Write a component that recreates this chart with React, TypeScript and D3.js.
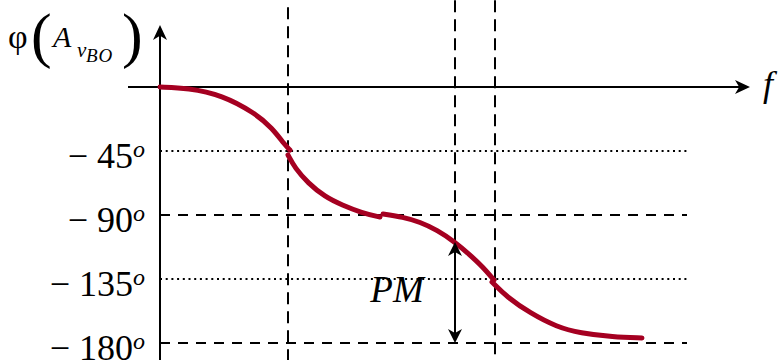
import { useEffect, useRef } from 'react';
import * as d3 from 'd3';

// phase readings, [f (arbitrary units), phase in degrees]
const segA: [number, number][] = [
  [0, 0], [2.8, -0.6], [6.2, -5.6], [9.5, -18.3], [11.2, -28.8], [12.5, -40.8], [13, -44.3],
];
const segB: [number, number][] = [
  [12.8, -47.8], [13.5, -57.0], [14.8, -67.5], [16.5, -77.3], [18.2, -83.0], [20.2, -88.6], [22.0, -91.4],
];
const segC: [number, number][] = [
  [22.3, -89.3], [24.3, -91.4], [26.0, -94.9], [27.7, -100.5], [29.5, -109.0], [31.0, -118.1], [32.3, -126.6], [33.4, -135.7],
];
const segD: [number, number][] = [
  [33.2, -137.1], [34.7, -147.7], [37.0, -158.9], [39.7, -168.8], [42.0, -173.0], [45.3, -175.8], [48.2, -176.5],
];
const segments = [segA, segB, segC, segD];

const phaseTicks = [-45, -90, -135, -180];
const dottedLevels = [-45, -135];
const gridEnd = 52.7;

// vertical dashed markers: [f, top phase, bottom phase]
const markers: [number, number, number][] = [
  [12.8, 56, -192],
  [29.5, 61, -109],
  [33.5, 61, -192],
];
const pm = { f: 29.5, from: -109, to: -180 };

const W = 784;
const H = 360;
const curveColor = '#a50021';
const FONT = 'Liberation Serif';

function arrowHead(tx: number, ty: number, dx: number, dy: number, len: number, half: number) {
  // stealth style arrow pointing along (dx, dy)
  const bx = tx - dx * len;
  const by = ty - dy * len;
  const nx = -dy;
  const ny = dx;
  const ix = tx - dx * len * 0.72;
  const iy = ty - dy * len * 0.72;
  return `M${tx},${ty}L${bx + nx * half},${by + ny * half}L${ix},${iy}L${bx - nx * half},${by - ny * half}Z`;
}

export default function App() {
  const svgRef = useRef<SVGSVGElement>(null);

  useEffect(() => {
    if (!svgRef.current) return;
    const svg = d3.select(svgRef.current);
    svg.selectAll('*').remove();

    const x = d3.scaleLinear().domain([0, 59]).range([160, 750]);
    const y = d3.scaleLinear().domain([0, -180]).range([87, 343]);

    // horizontal reference lines
    phaseTicks.forEach((p) => {
      svg
        .append('line')
        .attr('x1', x(0))
        .attr('x2', x(gridEnd))
        .attr('y1', y(p))
        .attr('y2', y(p))
        .attr('stroke', '#000')
        .attr('stroke-width', 2)
        .attr('stroke-dasharray', dottedLevels.includes(p) ? '2,3.7' : '10,8');
    });

    // vertical markers
    markers.forEach(([f, top, bot]) => {
      svg
        .append('line')
        .attr('x1', x(f))
        .attr('x2', x(f))
        .attr('y1', y(top))
        .attr('y2', y(bot))
        .attr('stroke', '#000')
        .attr('stroke-width', 2)
        .attr('stroke-dasharray', '12,7');
    });

    // axes with arrows
    const axisX1 = x(59);
    const axisYTop = y(43.6);
    svg
      .append('line')
      .attr('x1', x(-3.2))
      .attr('x2', axisX1 - 8)
      .attr('y1', y(0))
      .attr('y2', y(0))
      .attr('stroke', '#000')
      .attr('stroke-width', 2);
    svg.append('path').attr('d', arrowHead(axisX1, y(0), 1, 0, 15, 7)).attr('fill', '#000');
    svg
      .append('line')
      .attr('x1', x(0))
      .attr('x2', x(0))
      .attr('y1', y(-192))
      .attr('y2', axisYTop + 8)
      .attr('stroke', '#000')
      .attr('stroke-width', 2);
    svg.append('path').attr('d', arrowHead(x(0), axisYTop, 0, -1, 15, 7)).attr('fill', '#000');

    // phase curve
    const line = d3
      .line<[number, number]>()
      .x((d) => x(d[0]))
      .y((d) => y(d[1]))
      .curve(d3.curveBasis);
    segments.forEach((s) => {
      svg
        .append('path')
        .attr('d', line(s) ?? '')
        .attr('fill', 'none')
        .attr('stroke', curveColor)
        .attr('stroke-width', 5)
        .attr('stroke-linecap', 'round');
    });

    // phase margin arrow
    svg
      .append('line')
      .attr('x1', x(pm.f))
      .attr('x2', x(pm.f))
      .attr('y1', y(pm.from) + 8)
      .attr('y2', y(pm.to) - 8)
      .attr('stroke', '#000')
      .attr('stroke-width', 2);
    svg.append('path').attr('d', arrowHead(x(pm.f), y(pm.from), 0, -1, 14, 7)).attr('fill', '#000');
    svg.append('path').attr('d', arrowHead(x(pm.f), y(pm.to), 0, 1, 14, 7)).attr('fill', '#000');

    const addText = (tx: number, ty: number, size: number, str: string, italic = false) =>
      svg
        .append('text')
        .attr('x', tx)
        .attr('y', ty)
        .attr('font-size', size)
        .style('font-family', FONT)
        .style('font-style', italic ? 'italic' : 'normal')
        .text(str);

    addText(x(pm.f) - 58, 302, 37, 'PM', true).attr('text-anchor', 'middle');

    // tick labels
    phaseTicks.forEach((p) => {
      const t = svg
        .append('text')
        .attr('x', 145)
        .attr('y', y(p) + 17)
        .attr('font-size', 36)
        .attr('text-anchor', 'end')
        .style('font-family', FONT);
      t.append('tspan').text(`\u2212 ${Math.abs(p)}`);
      t.append('tspan').attr('font-size', 24).attr('dy', -11).style('font-style', 'italic').text('o');
    });

    // axis titles
    addText(8, 48, 34, 'φ');
    addText(31, 56, 62, '(');
    addText(53, 47, 30, 'A', true);
    addText(77, 57, 21, 'v', true);
    addText(86, 62, 19, 'BO', true).attr('letter-spacing', 1);
    addText(122, 56, 62, ')');
    addText(763, 96, 36, 'f', true);
  }, []);

  return (
    <svg
      ref={svgRef}
      width={W}
      height={H}
      style={{ position: 'absolute', left: 0, top: 0 }}
    />
  );
}
